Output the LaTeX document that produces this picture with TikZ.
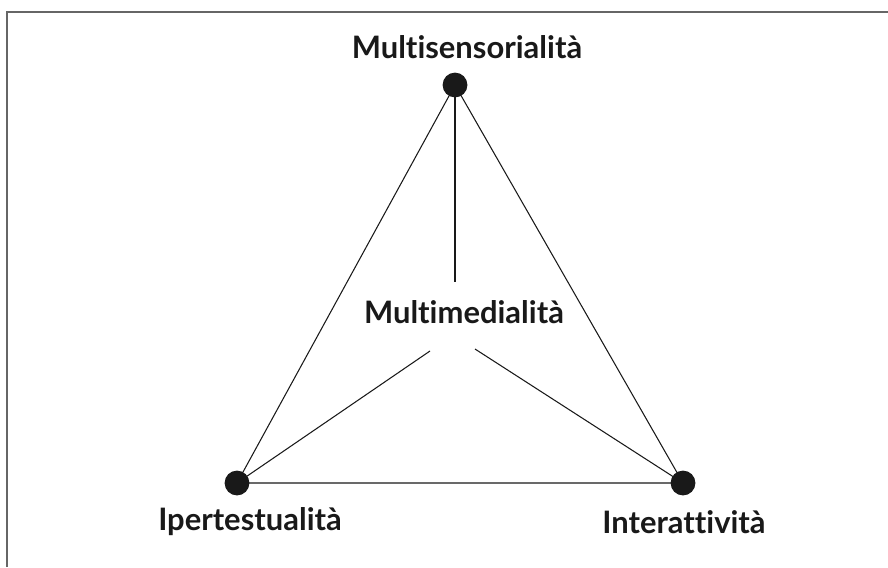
\documentclass[tikz,border=0pt]{standalone}
\usepackage{fontspec}
\setmainfont{Lato}[Ligatures = NoCommon]
\begin{document}
\begin{tikzpicture}[
                x = 0.025cm, y = -0.025cm,
                dot/.style = {circle, fill = black!90, inner sep = 0mm, minimum size = 0.62cm},
                lab/.style = {font = \bfseries\fontsize{22}{26}\selectfont, text = black!90},
                edge/.style = {draw, line width = 0.75pt, black!90},
                frame/.style = {draw, line width = 1.4pt, black!60},
            ]
            \useasboundingbox (0, 0) rectangle (888, 567);
            \path[frame] (7, 567) -- (7, 12) -- (888, 12);

            \node (S) at (455, 85) [dot] {};
            \node (I) at (237, 483) [dot] {};
            \node (R) at (683, 483) [dot] {};

            \node (SL) at (467, 47) [lab] {Multisensorialità};
            \node (IL) at (250, 522) [lab] {Ipertestualità};
            \node (RL) at (684, 522) [lab] {Interattività};
            \node (ML) at (464, 312) [lab] {Multimedialità};

            \coordinate (mU) at (455, 282);
            \coordinate (mL) at (430, 351);
            \coordinate (mR) at (475, 349);

            \path[edge] (S.center) -- (I.center) -- (R.center) -- cycle;
            \path[edge] (S.center) -- (mU);
            \path[edge] (I.center) -- (mL);
            \path[edge] (R.center) -- (mR);
        \end{tikzpicture}
\end{document}
